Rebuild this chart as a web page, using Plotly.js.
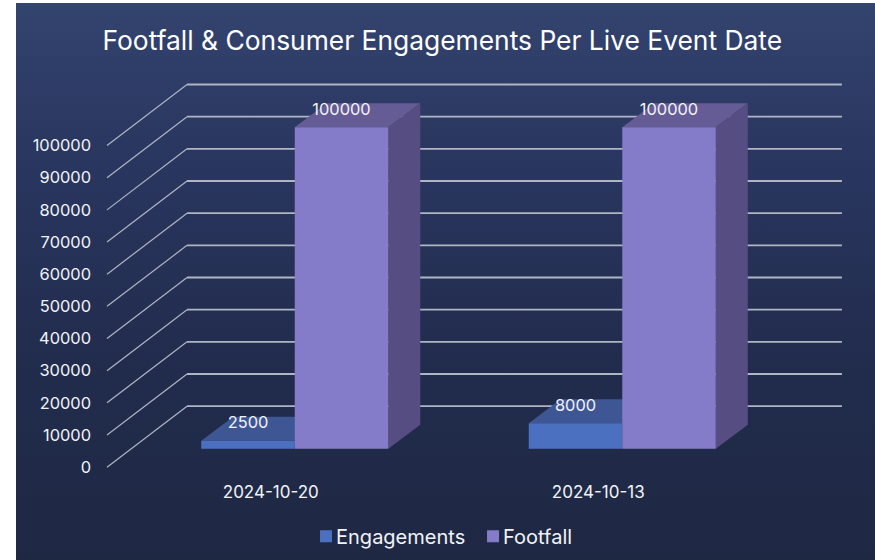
<!DOCTYPE html>
<html>
<head>
<meta charset="utf-8">
<script src="https://cdn.plot.ly/plotly-3.0.1.min.js"></script>
<style>
  html, body { margin: 0; padding: 0; background: #ffffff; }
  #panel {
    position: absolute; left: 16px; top: 3px; width: 859px; height: 557px;
    background: linear-gradient(180deg, #33446f 0%, #2a3761 25%, #222d4f 60%, #1e2843 100%);
  }
  #chart { position: absolute; left: 0; top: 0; width: 875px; height: 560px; }
</style>
</head>
<body>
<div id="panel"></div>
<div id="chart"></div>
<script>
// Chart content
const chartTitle = "Footfall & Consumer Engagements Per Live Event Date";
const eventDates = ["2024-10-20", "2024-10-13"];
const engagements = [2500, 8000];
const footfall = [100000, 100000];
const valueTicks = [0, 10000, 20000, 30000, 40000, 50000, 60000, 70000, 80000, 90000, 100000];

// Oblique projection, in axis units: one category along x, values along y
const wallDepthX = 0.2443, wallDepthY = 18970;
const barInsetFrac = 0.3;
const barDepthX = 0.0977, barDepthY = 7465;
const barGap = 0.429;
const labelLift = 5200;
const xRange = [-0.5214, 1.7595];
const yRange = [-1500, 123484];

const slots = eventDates.map((_, i) => i);
const barSlots = slots.map(i => i + barInsetFrac * wallDepthX);
const barBase = barInsetFrac * wallDepthY;
const barWidth = (1 - barGap) / 2;

const colors = {
  engagementsFront: "#4c70c0", engagementsTop: "#3e5693",
  footfallFront: "#847cc8", footfallTop: "#655c96", footfallSide: "#564e82",
  grid: "#b0b5c3", text: "#f2f3f7"
};

function polygon(points, fill) {
  const path = "M" + points.map(p => p[0] + "," + p[1]).join("L") + "Z";
  return { type: "path", xref: "x", yref: "y", layer: "below", path, fillcolor: fill, line: { width: 0 } };
}
function polyline(points, width) {
  const path = "M" + points.map(p => p[0] + "," + p[1]).join("L");
  return { type: "path", xref: "x", yref: "y", layer: "below", path, line: { color: colors.grid, width } };
}

// Wall grid: a diagonal run up the side wall, then a horizontal run across the back wall
const shapes = [];
valueTicks.forEach(v => {
  shapes.push(polyline([[-0.5, v], [-0.5 + wallDepthX, v + wallDepthY]], 1.2));
  shapes.push(polyline([[-0.5 + wallDepthX, v + wallDepthY], [1.744, v + wallDepthY]], 1.8));
});

// Oblique faces of each bar; the front faces are the bar traces themselves
barSlots.forEach((c, i) => {
  const eL = c - barWidth, eR = c;
  const eTop = barBase + engagements[i];
  shapes.push(polygon([[eL, eTop], [eL + barDepthX, eTop + barDepthY], [eR + barDepthX, eTop + barDepthY], [eR, eTop]], colors.engagementsTop));
  const fL = c, fR = c + barWidth;
  const fTop = barBase + footfall[i];
  shapes.push(polygon([[fL, fTop], [fL + barDepthX, fTop + barDepthY], [fR + barDepthX, fTop + barDepthY], [fR, fTop]], colors.footfallTop));
  shapes.push(polygon([[fR, barBase], [fR + barDepthX, barBase + barDepthY], [fR + barDepthX, fTop + barDepthY], [fR, fTop]], colors.footfallSide));
});

const valueFont = { family: "Inter, sans-serif", size: 16.4, color: colors.text };
const dateFont = { family: "Inter, sans-serif", size: 17, color: colors.text };

const traces = [
  { type: "bar", name: "Engagements", x: barSlots, y: engagements, base: barBase,
    marker: { color: colors.engagementsFront, line: { width: 0 } } },
  { type: "bar", name: "Footfall", x: barSlots, y: footfall, base: barBase,
    marker: { color: colors.footfallFront, line: { width: 0 } } },
  { type: "scatter", mode: "text", showlegend: false, cliponaxis: false,
    x: barSlots.map(c => c - barWidth / 2), y: engagements.map(v => barBase + v + labelLift),
    text: engagements.map(String), textposition: "middle center", textfont: valueFont },
  { type: "scatter", mode: "text", showlegend: false, cliponaxis: false,
    x: barSlots.map(c => c + barWidth / 2), y: footfall.map(v => barBase + v + labelLift),
    text: footfall.map(String), textposition: "middle center", textfont: valueFont }
];

const layout = {
  width: 875, height: 560,
  margin: { l: 100, r: 28, t: 70, b: 88.2, pad: 0, autoexpand: false },
  paper_bgcolor: "rgba(0,0,0,0)", plot_bgcolor: "rgba(0,0,0,0)",
  title: { text: chartTitle, x: 0.5055, xanchor: "center", y: 0.928, yanchor: "middle",
           font: { family: "Inter, sans-serif", size: 26.4, color: "#ffffff" } },
  barmode: "group", bargap: barGap, bargroupgap: 0,
  hovermode: false,
  showlegend: true,
  legend: { orientation: "h", x: 0.2758, xanchor: "left", y: -0.16, yanchor: "middle",
            entrywidth: 122, entrywidthmode: "pixels", itemwidth: 30,
            font: { family: "Inter, sans-serif", size: 20, color: colors.text },
            bgcolor: "rgba(0,0,0,0)" },
  xaxis: { type: "linear", range: xRange, tickmode: "array", tickvals: slots, ticktext: eventDates,
           showgrid: false, zeroline: false, showline: false, ticks: "", ticklabelstandoff: 8,
           tickfont: dateFont },
  yaxis: { type: "linear", range: yRange, tickmode: "array", tickvals: valueTicks,
           ticktext: valueTicks.map(String),
           showgrid: false, zeroline: false, showline: false, ticks: "", ticklabelstandoff: 8,
           tickfont: valueFont },
  shapes
};

Plotly.newPlot("chart", traces, layout, { displayModeBar: false, staticPlot: true }).then(gd => {
  // Bring the legend labels in close to their swatches
  gd.querySelectorAll(".legendtext").forEach(t => t.setAttribute("x", 30));
});
</script>
</body>
</html>
